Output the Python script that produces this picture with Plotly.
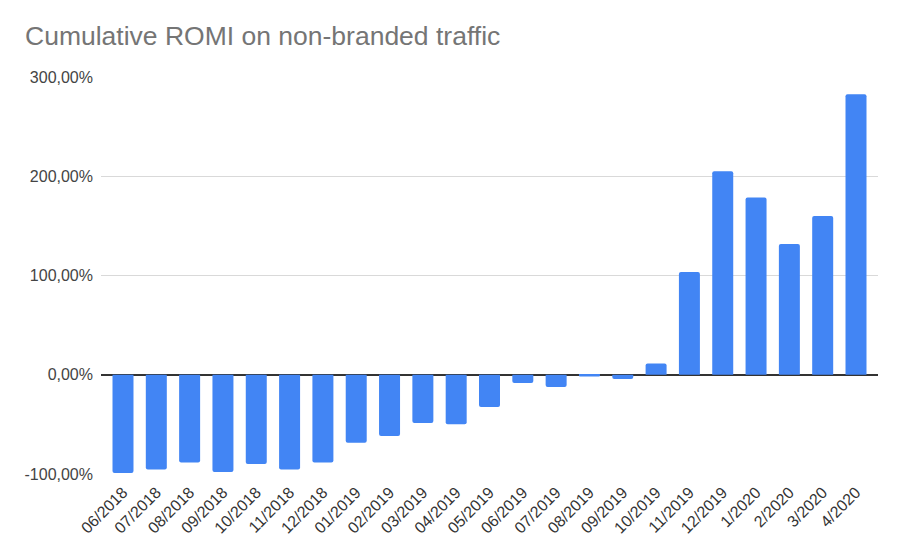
import plotly.graph_objects as go

months = ["06/2018", "07/2018", "08/2018", "09/2018", "10/2018", "11/2018", "12/2018",
          "01/2019", "02/2019", "03/2019", "04/2019", "05/2019", "06/2019", "07/2019",
          "08/2019", "09/2019", "10/2019", "11/2019", "12/2019", "1/2020", "2/2020",
          "3/2020", "4/2020"]
romi = [-99.0, -95.5, -88.5, -98.0, -90.0, -95.5, -88.5,
        -68.5, -61.8, -48.5, -49.8, -32.5, -8.3, -12.3,
        -1.7, -4.3, 11.3, 103.5, 205.0, 178.5, 131.7,
        160.0, 282.5]
y_ticks = [-100, 0, 100, 200, 300]
y_tick_labels = ["-100,00%", "0,00%", "100,00%", "200,00%", "300,00%"]

fig = go.Figure(go.Bar(
    x=months, y=romi,
    marker=dict(color="#4285f4", cornerradius=2, line=dict(width=0)),
))

fig.update_layout(
    width=900, height=539,
    paper_bgcolor="white", plot_bgcolor="white",
    margin=dict(l=101, r=22, t=77, b=65),
    font=dict(family="Arial, Liberation Sans, sans-serif", color="#444444"),
    title=dict(text="Cumulative ROMI on non-branded traffic",
               x=25/900, xref="container", xanchor="left",
               y=1-36/539, yref="container", yanchor="middle",
               font=dict(size=26.5, color="#757575", family="Arial, Liberation Sans, sans-serif")),
    bargap=0.37,
    showlegend=False,
)
fig.update_yaxes(range=[-100, 300], tickvals=y_ticks, ticktext=y_tick_labels,
                 gridcolor="#d9d9d9", gridwidth=1, zeroline=True, zerolinecolor="#333333",
                 zerolinewidth=1.5, tickfont=dict(size=16, color="#444444"),
                 ticks="", ticklabelstandoff=7, showline=False, automargin=False)
fig.update_xaxes(range=[-0.66, len(months) - 1 + 0.66], tickangle=-45,
                 tickfont=dict(size=16, color="#333333"),
                 showline=False, ticks="", showgrid=False, ticklabelstandoff=5,
                 automargin=False)

fig.write_html("out.html")
